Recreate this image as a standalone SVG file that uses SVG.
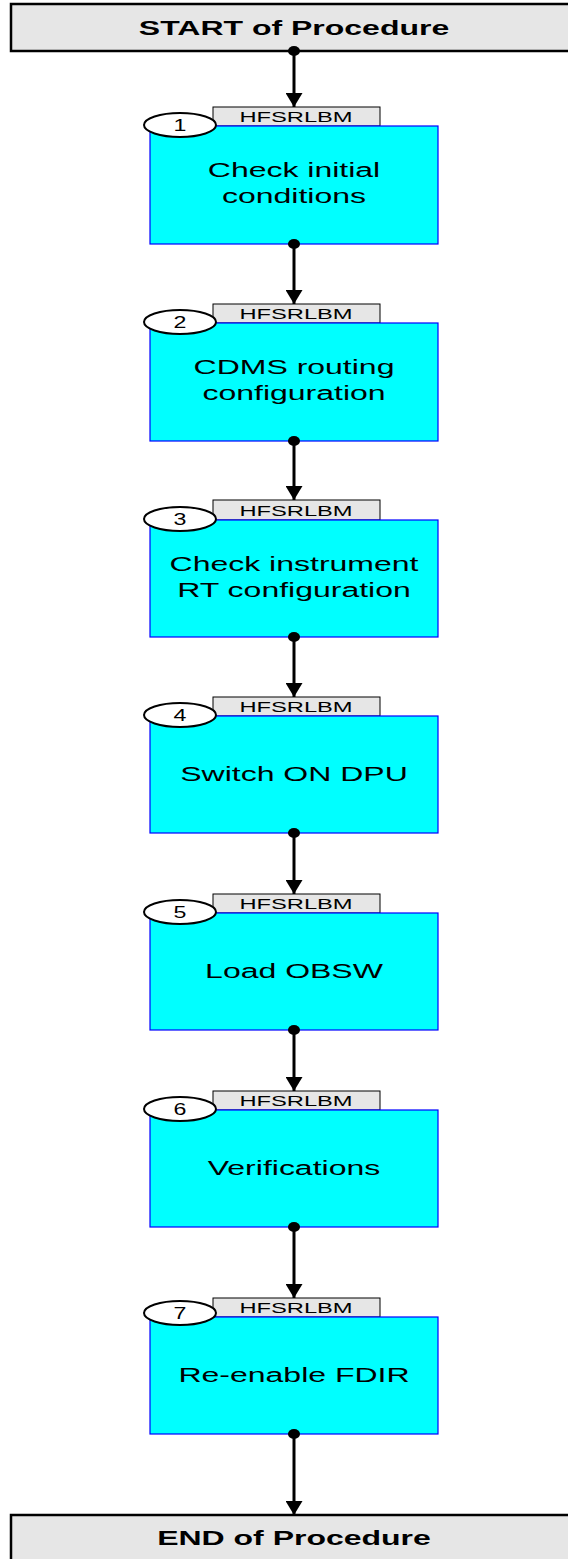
<svg xmlns="http://www.w3.org/2000/svg" width="568" height="1559" viewBox="0 0 568 1559">
<style>
.term{fill:#e6e6e6;stroke:#000;stroke-width:2.5}
.termt{font-family:"Liberation Sans",Arial,sans-serif;font-weight:bold;font-size:20px;text-anchor:middle;fill:#000}
.tab{fill:#e6e6e6;stroke:#000;stroke-width:1}
.tabt{font-family:"Liberation Sans",Arial,sans-serif;font-size:15px;text-anchor:middle;fill:#000}
.numt{font-family:"Liberation Sans",Arial,sans-serif;font-size:16px;text-anchor:middle;fill:#000}
.box{fill:#00ffff;stroke:#0000ff;stroke-width:1.2}
.boxt{font-family:"Liberation Sans",Arial,sans-serif;font-size:20px;text-anchor:middle;fill:#000}
.num{fill:#fff;stroke:#000;stroke-width:2}
.line{stroke:#000;stroke-width:3;fill:none}
.dot{fill:#000}
</style>
<defs>
<marker id="ah" viewBox="0 0 14 17" refX="14" refY="8.5" markerWidth="14" markerHeight="17" markerUnits="userSpaceOnUse" orient="auto">
<path d="M0,0 L14,8.5 L0,17 Z" fill="#000"/>
</marker>
</defs>
<g id="start">
<rect class="term" x="11" y="4" width="580" height="47"/>
<text class="termt" transform="translate(294,35) scale(1.6,1)">START of Procedure</text>
</g>
<g id="node1">
<rect class="tab" x="213" y="107" width="167" height="19"/>
<text class="tabt" transform="translate(296,122) scale(1.58,1)">HFSRLBM</text>
<rect class="box" x="150" y="126" width="288" height="118"/>
<ellipse class="num" cx="180" cy="125" rx="36" ry="12"/>
<text class="numt" transform="translate(180,131) scale(1.45,1)">1</text>
<text class="boxt" transform="translate(294,177) scale(1.6,1)">Check initial</text>
<text class="boxt" transform="translate(294,203) scale(1.6,1)">conditions</text>
</g>
<g id="node2">
<rect class="tab" x="213" y="304" width="167" height="19"/>
<text class="tabt" transform="translate(296,319) scale(1.58,1)">HFSRLBM</text>
<rect class="box" x="150" y="323" width="288" height="118"/>
<ellipse class="num" cx="180" cy="322" rx="36" ry="12"/>
<text class="numt" transform="translate(180,328) scale(1.45,1)">2</text>
<text class="boxt" transform="translate(294,374) scale(1.6,1)">CDMS routing</text>
<text class="boxt" transform="translate(294,400) scale(1.6,1)">configuration</text>
</g>
<g id="node3">
<rect class="tab" x="213" y="500" width="167" height="20"/>
<text class="tabt" transform="translate(296,516) scale(1.58,1)">HFSRLBM</text>
<rect class="box" x="150" y="520" width="288" height="117"/>
<ellipse class="num" cx="180" cy="519" rx="36" ry="12"/>
<text class="numt" transform="translate(180,525) scale(1.45,1)">3</text>
<text class="boxt" transform="translate(294,571) scale(1.6,1)">Check instrument</text>
<text class="boxt" transform="translate(294,597) scale(1.6,1)">RT configuration</text>
</g>
<g id="node4">
<rect class="tab" x="213" y="697" width="167" height="19"/>
<text class="tabt" transform="translate(296,712) scale(1.58,1)">HFSRLBM</text>
<rect class="box" x="150" y="716" width="288" height="117"/>
<ellipse class="num" cx="180" cy="715" rx="36" ry="12"/>
<text class="numt" transform="translate(180,721) scale(1.45,1)">4</text>
<text class="boxt" transform="translate(294,781) scale(1.6,1)">Switch ON DPU</text>
</g>
<g id="node5">
<rect class="tab" x="213" y="894" width="167" height="19"/>
<text class="tabt" transform="translate(296,909) scale(1.58,1)">HFSRLBM</text>
<rect class="box" x="150" y="913" width="288" height="117"/>
<ellipse class="num" cx="180" cy="912" rx="36" ry="12"/>
<text class="numt" transform="translate(180,918) scale(1.45,1)">5</text>
<text class="boxt" transform="translate(294,978) scale(1.6,1)">Load OBSW</text>
</g>
<g id="node6">
<rect class="tab" x="213" y="1091" width="167" height="19"/>
<text class="tabt" transform="translate(296,1106) scale(1.58,1)">HFSRLBM</text>
<rect class="box" x="150" y="1110" width="288" height="117"/>
<ellipse class="num" cx="180" cy="1109" rx="36" ry="12"/>
<text class="numt" transform="translate(180,1115) scale(1.45,1)">6</text>
<text class="boxt" transform="translate(294,1175) scale(1.6,1)">Verifications</text>
</g>
<g id="node7">
<rect class="tab" x="213" y="1298" width="167" height="19"/>
<text class="tabt" transform="translate(296,1313) scale(1.58,1)">HFSRLBM</text>
<rect class="box" x="150" y="1317" width="288" height="117"/>
<ellipse class="num" cx="180" cy="1313" rx="36" ry="12"/>
<text class="numt" transform="translate(180,1319) scale(1.45,1)">7</text>
<text class="boxt" transform="translate(294,1382) scale(1.6,1)">Re-enable FDIR</text>
</g>
<g id="end">
<rect class="term" x="11" y="1515" width="580" height="60"/>
<text class="termt" transform="translate(294,1545) scale(1.6,1)">END of Procedure</text>
</g>
<g id="connectors">
<line class="line" x1="294" y1="51" x2="294" y2="107" marker-end="url(#ah)"/>
<ellipse class="dot" cx="294" cy="51" rx="6" ry="5"/>
<line class="line" x1="294" y1="244" x2="294" y2="304" marker-end="url(#ah)"/>
<ellipse class="dot" cx="294" cy="244" rx="6" ry="5"/>
<line class="line" x1="294" y1="441" x2="294" y2="500" marker-end="url(#ah)"/>
<ellipse class="dot" cx="294" cy="441" rx="6" ry="5"/>
<line class="line" x1="294" y1="637" x2="294" y2="697" marker-end="url(#ah)"/>
<ellipse class="dot" cx="294" cy="637" rx="6" ry="5"/>
<line class="line" x1="294" y1="833" x2="294" y2="894" marker-end="url(#ah)"/>
<ellipse class="dot" cx="294" cy="833" rx="6" ry="5"/>
<line class="line" x1="294" y1="1030" x2="294" y2="1091" marker-end="url(#ah)"/>
<ellipse class="dot" cx="294" cy="1030" rx="6" ry="5"/>
<line class="line" x1="294" y1="1227" x2="294" y2="1298" marker-end="url(#ah)"/>
<ellipse class="dot" cx="294" cy="1227" rx="6" ry="5"/>
<line class="line" x1="294" y1="1434" x2="294" y2="1515" marker-end="url(#ah)"/>
<ellipse class="dot" cx="294" cy="1434" rx="6" ry="5"/>
</g>
</svg>
